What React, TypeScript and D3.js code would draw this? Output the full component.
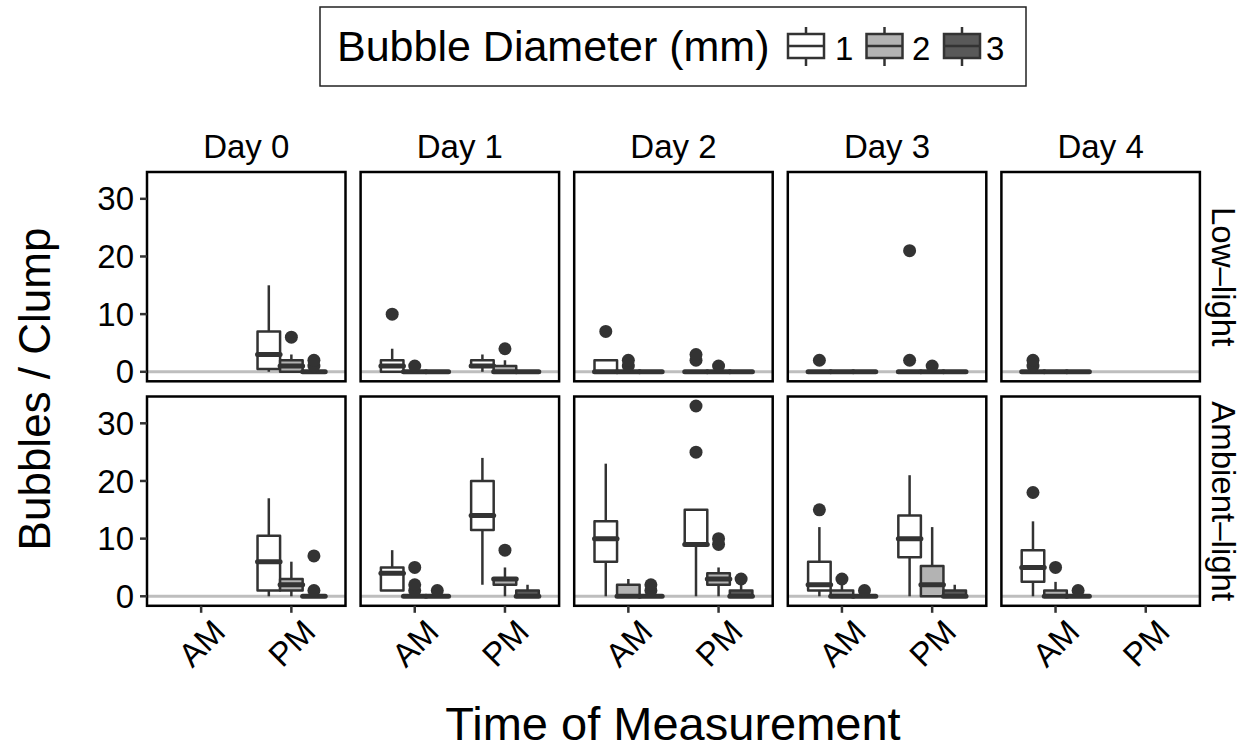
import React from "react";
import * as d3 from "d3";

// ---------- data ----------
const days = ["Day 0", "Day 1", "Day 2", "Day 3", "Day 4"];
const lights = ["Low–light", "Ambient–light"];
const times = ["AM", "PM"];
const sizes = ["1", "2", "3"];
const sizeFills = ["#ffffff", "#b3b3b3", "#595959"];
const yTicks = [0, 10, 20, 30];

// [day, time, size, lower whisker, q1, median, q3, upper whisker, outliers]
type Box = [string, string, string, number, number, number, number, number, number[]];

const lowLightBoxes: Box[] = [
  ["Day 0", "PM", "1", 0, 0.5, 3, 7, 15, []],
  ["Day 0", "PM", "2", 0, 0, 1, 2, 3, [6]],
  ["Day 0", "PM", "3", 0, 0, 0, 0, 0, [1, 2]],
  ["Day 1", "AM", "1", 0, 0, 1, 2, 4, [10]],
  ["Day 1", "AM", "2", 0, 0, 0, 0, 0, [1]],
  ["Day 1", "AM", "3", 0, 0, 0, 0, 0, []],
  ["Day 1", "PM", "1", 0, 1, 1, 2, 3, []],
  ["Day 1", "PM", "2", 0, 0, 0, 1, 2, [4]],
  ["Day 1", "PM", "3", 0, 0, 0, 0, 0, []],
  ["Day 2", "AM", "1", 0, 0, 0, 2, 2, [7]],
  ["Day 2", "AM", "2", 0, 0, 0, 0, 0, [1, 2]],
  ["Day 2", "AM", "3", 0, 0, 0, 0, 0, []],
  ["Day 2", "PM", "1", 0, 0, 0, 0, 0, [2, 3]],
  ["Day 2", "PM", "2", 0, 0, 0, 0, 0, [1]],
  ["Day 2", "PM", "3", 0, 0, 0, 0, 0, []],
  ["Day 3", "AM", "1", 0, 0, 0, 0, 0, [2]],
  ["Day 3", "AM", "2", 0, 0, 0, 0, 0, []],
  ["Day 3", "AM", "3", 0, 0, 0, 0, 0, []],
  ["Day 3", "PM", "1", 0, 0, 0, 0, 0, [2, 21]],
  ["Day 3", "PM", "2", 0, 0, 0, 0, 0, [1]],
  ["Day 3", "PM", "3", 0, 0, 0, 0, 0, []],
  ["Day 4", "AM", "1", 0, 0, 0, 0, 0, [1, 2]],
  ["Day 4", "AM", "2", 0, 0, 0, 0, 0, []],
  ["Day 4", "AM", "3", 0, 0, 0, 0, 0, []],
];

const ambientLightBoxes: Box[] = [
  ["Day 0", "PM", "1", 0, 1, 6, 10.5, 17, []],
  ["Day 0", "PM", "2", 0, 1, 2, 3, 6, []],
  ["Day 0", "PM", "3", 0, 0, 0, 0, 0, [1, 7]],
  ["Day 1", "AM", "1", 1, 1, 4, 5, 8, []],
  ["Day 1", "AM", "2", 0, 0, 0, 0, 0, [1, 2, 5]],
  ["Day 1", "AM", "3", 0, 0, 0, 0, 0, [1]],
  ["Day 1", "PM", "1", 2, 11.5, 14, 20, 24, []],
  ["Day 1", "PM", "2", 0, 2, 3, 3, 5, [8]],
  ["Day 1", "PM", "3", 0, 0, 0, 1, 2, []],
  ["Day 2", "AM", "1", 0, 6, 10, 13, 23, []],
  ["Day 2", "AM", "2", 0, 0, 0, 2, 3, []],
  ["Day 2", "AM", "3", 0, 0, 0, 0, 0, [1, 2]],
  ["Day 2", "PM", "1", 0, 9, 9, 15, 15, [25, 33]],
  ["Day 2", "PM", "2", 0, 2, 3, 4, 5, [9, 10]],
  ["Day 2", "PM", "3", 0, 0, 0, 1, 2, [3]],
  ["Day 3", "AM", "1", 0, 1, 2, 6, 12, [15]],
  ["Day 3", "AM", "2", 0, 0, 0, 1, 2, [3]],
  ["Day 3", "AM", "3", 0, 0, 0, 0, 0, [1]],
  ["Day 3", "PM", "1", 0, 6.75, 10, 14, 21, []],
  ["Day 3", "PM", "2", 0, 0, 2, 5.25, 12, []],
  ["Day 3", "PM", "3", 0, 0, 0, 1, 2, []],
  ["Day 4", "AM", "1", 0, 2.5, 5, 8, 13, [18]],
  ["Day 4", "AM", "2", 0, 0, 0, 1, 2.5, [5]],
  ["Day 4", "AM", "3", 0, 0, 0, 0, 0, [1]],
];

const boxesByLight = [lowLightBoxes, ambientLightBoxes];

// ---------- layout ----------
const W = 1250;
const H = 751;
const FONT = "'Liberation Sans', Arial, Helvetica, sans-serif";
const panelLeft0 = 147;
const panelW = 198.5;
const panelStepX = 213.6;
const panelTop0 = 172;
const panelH = 209.3;
const panelStepY = 224.5;
const OUT = "#333333";
const LW = 2.5;

export default function App() {
  const yMin = -1.65;
  const yMax = 34.65;
  const fill = d3.scaleOrdinal<string, string>().domain(sizes).range(sizeFills);

  const x = d3.scalePoint<string>().domain(times).range([0, panelW]).padding(0.6);
  const step = x.step();
  const dodge = d3
    .scaleBand<string>()
    .domain(sizes)
    .range([-0.375 * step, 0.375 * step])
    .padding(0);
  const bw = dodge.bandwidth();

  const panels: React.ReactNode[] = [];

  lights.forEach((light, r) => {
    const top = panelTop0 + r * panelStepY;
    const y = d3.scaleLinear().domain([yMin, yMax]).range([top + panelH, top]);
    days.forEach((day, c) => {
      const left = panelLeft0 + c * panelStepX;
      const boxes = boxesByLight[r].filter((b) => b[0] === day);
      panels.push(
        <g key={`p-${r}-${c}`}>
          <rect x={left} y={top} width={panelW} height={panelH} fill="#ffffff" />
          <line
            x1={left}
            x2={left + panelW}
            y1={y(0)}
            y2={y(0)}
            stroke="#bebebe"
            strokeWidth={3}
          />
          {boxes.map((b, i) => {
            const [, t, s, lo, q1, med, q3, hi, outs] = b;
            const cx = (x(t) as number) + (dodge(s) as number) + bw / 2 + left;
            const x0 = cx - bw / 2;
            const x1 = cx + bw / 2;
            return (
              <g key={i}>
                <line x1={cx} x2={cx} y1={y(q3)} y2={y(hi)} stroke={OUT} strokeWidth={LW} />
                <line x1={cx} x2={cx} y1={y(lo)} y2={y(q1)} stroke={OUT} strokeWidth={LW} />
                <path
                  d={`M${x0},${y(q1)}H${x1}V${y(q3)}H${x0}Z`}
                  fill={fill(s)}
                  stroke={OUT}
                  strokeWidth={LW}
                  strokeLinejoin="round"
                />
                <line
                  x1={x0}
                  x2={x1}
                  y1={y(med)}
                  y2={y(med)}
                  stroke={OUT}
                  strokeWidth={LW * 2}
                  strokeLinecap="round"
                />
                {outs.map((o, j) => (
                  <circle key={j} cx={cx} cy={y(o)} r={6.5} fill={OUT} />
                ))}
              </g>
            );
          })}
          <rect
            x={left}
            y={top}
            width={panelW}
            height={panelH}
            fill="none"
            stroke="#000000"
            strokeWidth={2.5}
          />
          {c === 0 &&
            yTicks.map((v) => (
              <g key={`yt-${v}`}>
                <line x1={left - 7} x2={left} y1={y(v)} y2={y(v)} stroke={OUT} strokeWidth={2.5} />
                <text
                  x={left - 13}
                  y={y(v)}
                  dy="0.35em"
                  textAnchor="end"
                  fontSize={33}
                  fontFamily={FONT}
                  fill="#000"
                >
                  {v}
                </text>
              </g>
            ))}
          {r === 0 && (
            <text
              x={left + panelW / 2}
              y={158}
              textAnchor="middle"
              fontSize={33}
              fontFamily={FONT}
              fill="#000"
            >
              {day}
            </text>
          )}
          {r === lights.length - 1 &&
            times.map((t) => {
              const tx = left + (x(t) as number);
              return (
                <g key={`xt-${t}`}>
                  <line
                    x1={tx}
                    x2={tx}
                    y1={top + panelH}
                    y2={top + panelH + 7}
                    stroke={OUT}
                    strokeWidth={2.5}
                  />
                  <text
                    transform={`translate(${tx + 26},${top + panelH + 28}) rotate(-45)`}
                    textAnchor="end"
                    fontSize={33}
                    fontFamily={FONT}
                    fill="#000"
                  >
                    {t}
                  </text>
                </g>
              );
            })}
          {c === days.length - 1 && (
            <text
              transform={`translate(${1212},${top + panelH / 2}) rotate(90)`}
              textAnchor="middle"
              fontSize={33}
              fontFamily={FONT}
              fill="#000"
            >
              {light}
            </text>
          )}
        </g>
      );
    });
  });

  // legend
  const keyCenters = [806, 884.5, 962];
  const keyLabelX = [835, 912, 986];

  return (
    <svg
      width={W}
      height={H}
      style={{ position: "absolute", left: 0, top: 0, background: "#fff" }}
      xmlns="http://www.w3.org/2000/svg"
    >
      <rect x={0} y={0} width={W} height={H} fill="#ffffff" />
      <rect x={320} y={7} width={706} height={79} fill="#fff" stroke="#222" strokeWidth={1.5} />
      <text x={337} y={61} fontSize={43} fontFamily={FONT} fill="#000">
        Bubble Diameter (mm)
      </text>
      {sizes.map((s, i) => {
        const cx = keyCenters[i];
        return (
          <g key={`k-${s}`}>
            <line x1={cx} x2={cx} y1={27} y2={34} stroke={OUT} strokeWidth={LW} />
            <line x1={cx} x2={cx} y1={58} y2={66} stroke={OUT} strokeWidth={LW} />
            <rect x={cx - 18} y={34} width={36} height={24} fill={fill(s)} stroke={OUT} strokeWidth={LW} />
            <line x1={cx - 18} x2={cx + 18} y1={46} y2={46} stroke={OUT} strokeWidth={LW} />
            <text x={keyLabelX[i]} y={60} fontSize={33} fontFamily={FONT} fill="#000">
              {s}
            </text>
          </g>
        );
      })}
      {panels}
      <text
        transform={`translate(50,389) rotate(-90)`}
        textAnchor="middle"
        fontSize={44}
        fontFamily={FONT}
        fill="#000"
      >
        Bubbles / Clump
      </text>
      <text x={673} y={740} textAnchor="middle" fontSize={47} fontFamily={FONT} fill="#000">
        Time of Measurement
      </text>
    </svg>
  );
}
